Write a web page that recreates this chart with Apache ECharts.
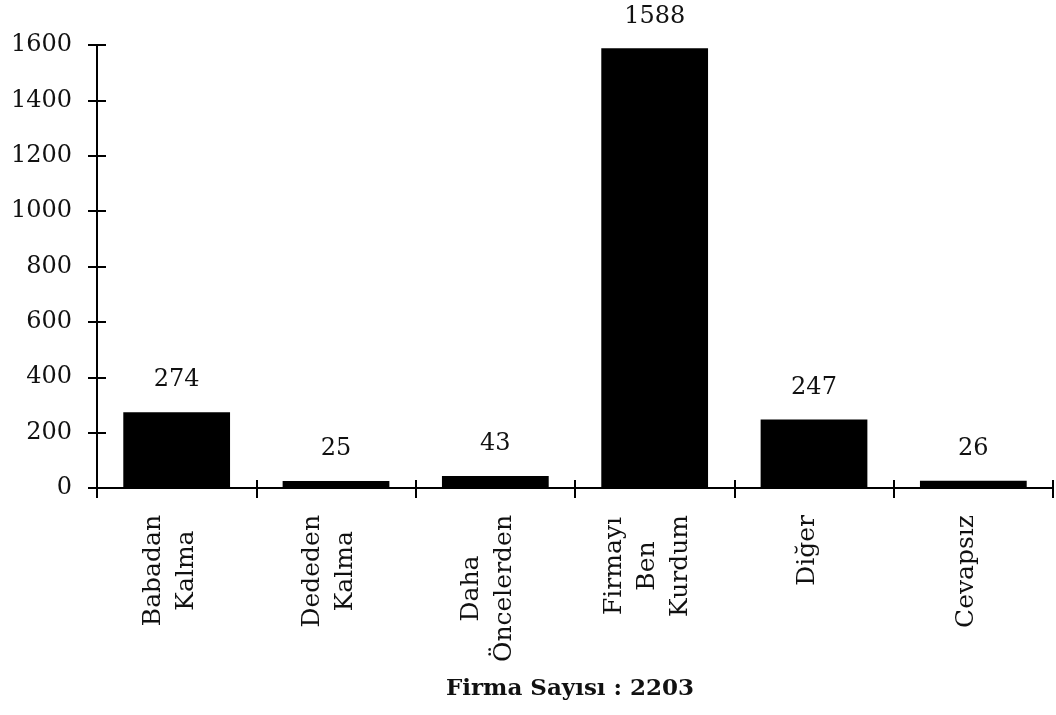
<!DOCTYPE html>
<html>
<head>
<meta charset="utf-8">
<script src="https://cdn.jsdelivr.net/npm/echarts@6/dist/echarts.min.js"></script>
<style>html,body{margin:0;padding:0;background:#fff}#c{width:1056px;height:715px}</style>
</head>
<body>
<div id="c"></div>
<script>
const categories = ['Babadan\nKalma', 'Dededen\nKalma', 'Daha\nÖncelerden', 'Firmayı\nBen\nKurdum', 'Diğer', 'Cevapsız'];
const values = [274, 25, 43, 1588, 247, 26];
const yTicks = [0, 200, 400, 600, 800, 1000, 1200, 1400, 1600];
const axisTitle = 'Firma Sayısı : 2203';

const FONT = '"DejaVu Serif", "Liberation Serif", serif';
const chart = echarts.init(document.getElementById('c'), null, {renderer: 'canvas'});
const yMin = yTicks[0], yMax = yTicks[yTicks.length - 1], yStep = yTicks[1] - yTicks[0];

chart.setOption({
  animation: false,
  backgroundColor: '#fff',
  grid: {left: 97, right: 3, top: 45, bottom: 227, containLabel: false},
  xAxis: [{
    type: 'category',
    data: categories,
    position: 'bottom',
    axisLine: {show: true, lineStyle: {color: '#000', width: 2}},
    axisTick: {show: true, inside: false, length: 10, lineStyle: {color: '#000', width: 2}},
    axisLabel: {
      rotate: 90, margin: 27, color: '#111',
      padding: [0, 0, 14, 0],
      formatter: v => v.split('\n').map(l => '{c|' + l + '}').join('\n'),
      rich: {c: {align: 'center', fontFamily: FONT, fontSize: 25, lineHeight: 33, color: '#111'}}
    },
    name: axisTitle,
    nameLocation: 'middle',
    nameGap: 190,
    nameTextStyle: {fontFamily: FONT, fontWeight: 'bold', fontSize: 23, color: '#111', padding: [0, 10, 0, 0]}
  }, {
    type: 'category',
    data: categories,
    position: 'bottom',
    axisLine: {show: false},
    axisTick: {show: true, inside: true, length: 8, lineStyle: {color: '#000', width: 2}},
    axisLabel: {show: false}
  }],
  yAxis: [{
    type: 'value',
    min: yMin, max: yMax, interval: yStep,
    axisLine: {show: true, lineStyle: {color: '#000', width: 2}},
    axisTick: {show: true, inside: false, length: 9, lineStyle: {color: '#000', width: 2}},
    axisLabel: {margin: 25, color: '#111', fontFamily: FONT, fontSize: 24, formatter: v => String(v)},
    splitLine: {show: false}
  }, {
    type: 'value',
    position: 'left',
    offset: 0,
    min: yMin, max: yMax, interval: yStep,
    axisLine: {show: false},
    axisTick: {show: true, inside: true, length: 9, lineStyle: {color: '#000', width: 2}},
    axisLabel: {show: false},
    splitLine: {show: false}
  }],
  series: [{
    type: 'bar',
    xAxisIndex: 0,
    yAxisIndex: 0,
    data: values,
    barCategoryGap: '33%',
    itemStyle: {color: '#000'},
    label: {show: true, position: 'top', distance: 20, fontFamily: FONT, fontSize: 24, color: '#111'}
  }]
});
</script>
</body>
</html>
